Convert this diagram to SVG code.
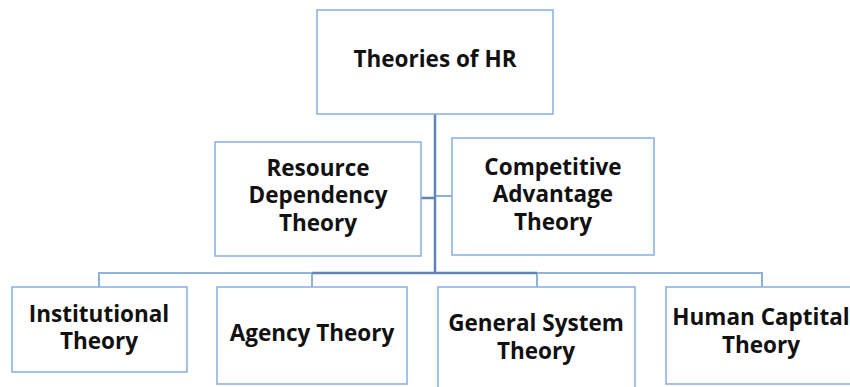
<svg xmlns="http://www.w3.org/2000/svg" width="850" height="387" viewBox="0 0 850 387">
<style>
.box{fill:#ffffff;stroke:#86aedf;stroke-width:1.5}
.t{font-family:"Open Sans","Noto Sans","DejaVu Sans",sans-serif;font-weight:bold;font-size:22.5px;fill:#111111;text-anchor:middle}
.c{fill:none;stroke:#8db2dc;stroke-width:2}
.trunk{fill:none;stroke:#5f86b4;stroke-width:2.5}
</style>
<rect width="850" height="387" fill="#ffffff"/>
<g id="connectors">
<path class="c" d="M99 287 V273 H762 V287"/>
<path class="c" d="M312 273 V287 M537 273 V287"/>
<path class="trunk" d="M312 273 H537"/>
<path class="trunk" d="M421 198 H435"/>
<path class="c" d="M435 196 H452"/>
<path class="trunk" d="M435 114 V273"/>
</g>
<g id="n-root">
<rect class="box" x="317" y="10" width="236" height="104"/>
<text class="t" x="435" y="67">Theories of HR</text>
</g>
<g id="n-resource">
<rect class="box" x="215" y="142" width="206" height="114"/>
<text class="t" x="318" y="176">Resource</text>
<text class="t" x="318" y="203">Dependency</text>
<text class="t" x="318" y="231">Theory</text>
</g>
<g id="n-competitive">
<rect class="box" x="452" y="138" width="202" height="117"/>
<text class="t" x="553" y="175">Competitive</text>
<text class="t" x="553" y="202">Advantage</text>
<text class="t" x="553" y="230">Theory</text>
</g>
<g id="n-institutional">
<rect class="box" x="12" y="287" width="175" height="85"/>
<text class="t" x="99" y="322">Institutional</text>
<text class="t" x="99" y="349">Theory</text>
</g>
<g id="n-agency">
<rect class="box" x="217" y="287" width="190" height="97"/>
<text class="t" x="312" y="341">Agency Theory</text>
</g>
<g id="n-general">
<rect class="box" x="438" y="287" width="197" height="104"/>
<text class="t" x="536" y="331">General System</text>
<text class="t" x="536" y="359">Theory</text>
</g>
<g id="n-human">
<rect class="box" x="666" y="287" width="190" height="97"/>
<text class="t" x="761" y="325">Human Captital</text>
<text class="t" x="761" y="353">Theory</text>
</g>
</svg>
